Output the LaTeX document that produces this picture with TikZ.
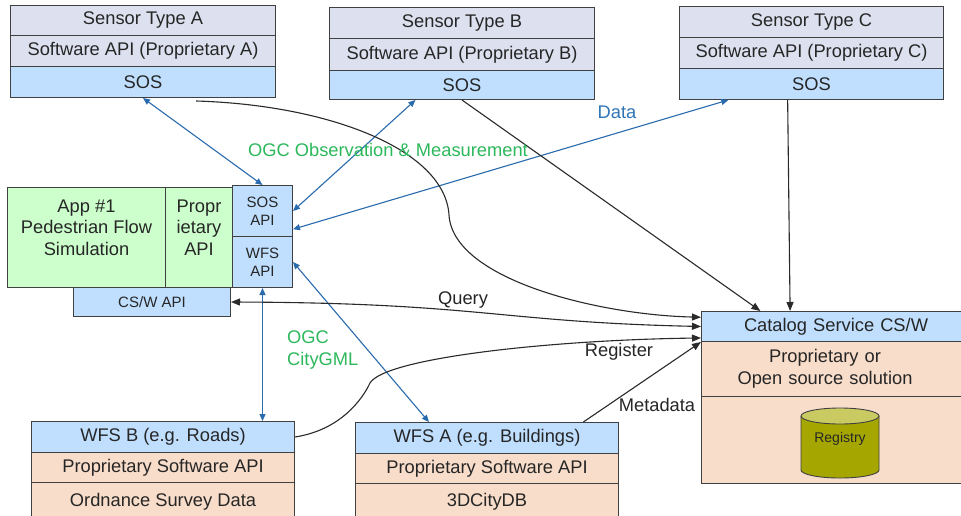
\documentclass[tikz,border=0pt]{standalone}
\usepackage{fontspec}
\setmainfont{Liberation Sans}
\usetikzlibrary{arrows.meta,calc}
\definecolor{lav}{HTML}{DDE1EF}
\definecolor{sosb}{HTML}{C0DFFF}
\definecolor{appg}{HTML}{CCFFCC}
\definecolor{peach}{HTML}{F8DDCA}
\definecolor{oliv}{HTML}{A5A700}
\definecolor{olivtop}{HTML}{C9CB62}
\definecolor{bord}{HTML}{404040}
\definecolor{lblue}{HTML}{2A6BAE}
\definecolor{dblue}{HTML}{2E75B6}
\definecolor{ogreen}{HTML}{2DB85C}
\definecolor{txt}{HTML}{262626}
\definecolor{lblack}{HTML}{2A2A2A}
\begin{document}
\begin{tikzpicture}[x=1pt,y=-1pt,
  cell/.style={draw=bord, line width=1pt, inner sep=0pt, anchor=north west, align=center, text=txt, font=\fontsize{18.3}{21.5}\selectfont},
  small/.style={font=\fontsize{15}{18}\selectfont},
  lbl/.style={inner sep=0pt, text=txt, font=\fontsize{18.3}{21.5}\selectfont, align=center},
  bl/.style={draw=lblue, line width=1.1pt, {Triangle[length=7pt,width=6pt]}-{Triangle[length=7pt,width=6pt]}},
  bk/.style={draw=lblack, line width=1.1pt, -{Triangle[length=9pt,width=7pt]}},
  bkk/.style={draw=lblack, line width=1.1pt, {Triangle[length=9pt,width=7pt]}-{Triangle[length=9pt,width=7pt]}}]
\useasboundingbox (0,0) rectangle (961,515);
\clip (0,0) rectangle (961,515);
\fill[white] (0,0) rectangle (961,515);

% Sensor A
\node[cell, fill=lav, minimum width=265pt, minimum height=30pt] (sA1) at (10,5) {Sensor Type A};
\node[cell, fill=lav, minimum width=265pt, minimum height=31pt] (sA2) at (10,35) {Software API (Proprietary A)};
\node[cell, fill=sosb, minimum width=265pt, minimum height=31pt] (sA3) at (10,66) {SOS};
% Sensor B
\node[cell, fill=lav, minimum width=265pt, minimum height=31pt] (sB1) at (329,7) {Sensor Type B};
\node[cell, fill=lav, minimum width=265pt, minimum height=32pt] (sB2) at (329,38) {Software API (Proprietary B)};
\node[cell, fill=sosb, minimum width=265pt, minimum height=29pt] (sB3) at (329,70) {SOS};
% Sensor C
\node[cell, fill=lav, minimum width=264pt, minimum height=31pt] (sC1) at (679,6) {Sensor Type C};
\node[cell, fill=lav, minimum width=264pt, minimum height=31pt] (sC2) at (679,37) {Software API (Proprietary C)};
\node[cell, fill=sosb, minimum width=264pt, minimum height=31pt] (sC3) at (679,68) {SOS};

% App
\node[cell, fill=appg, minimum width=158pt, minimum height=100pt] (app) at (7,187) {};
\node[lbl] (apptxt) at ($(app.center)+(0,-10)$) {App \#1\\Pedestrian Flow\\Simulation};
\node[cell, fill=appg, minimum width=67pt, minimum height=100pt] (papi) at (165,187) {};
\node[lbl] (papitxt) at ($(papi.center)+(0,-10)$) {Propr\\ietary\\API};
\node[cell, small, fill=sosb, minimum width=60pt, minimum height=51pt] (sosapi) at (232,185) {SOS\\API};
\node[cell, small, fill=sosb, minimum width=60pt, minimum height=51pt] (wfsapi) at (232,236) {WFS\\API};
\node[cell, small, fill=sosb, minimum width=157pt, minimum height=29pt] (cswapi) at (73,287) {CS/W API};

% WFS B
\node[cell, fill=sosb, minimum width=263pt, minimum height=31pt] (wB1) at (31,421) {WFS B (e.g. Roads)};
\node[cell, fill=peach, minimum width=263pt, minimum height=30pt] (wB2) at (31,452) {Proprietary Software API};
\node[cell, fill=peach, minimum width=263pt, minimum height=38pt] (wB3) at (31,482) {Ordnance Survey Data};
% WFS A
\node[cell, fill=sosb, minimum width=263pt, minimum height=31pt] (wA1) at (355,422) {WFS A (e.g. Buildings)};
\node[cell, fill=peach, minimum width=263pt, minimum height=30pt] (wA2) at (355,453) {Proprietary Software API};
\node[cell, fill=peach, minimum width=263pt, minimum height=37pt] (wA3) at (355,483) {3DCityDB};

% Catalog
\node[cell, fill=sosb, minimum width=269pt, minimum height=30pt, text width=260pt, align=left] (cat1) at (701,311) {\hspace*{38pt}Catalog Service CS/W};
\node[cell, fill=peach, minimum width=269pt, minimum height=55pt, text width=240pt] (cat2) at (701,341) {\hspace*{-22pt}Proprietary or\\\hspace*{-22pt}Open source solution};
\node[cell, fill=peach, minimum width=269pt, minimum height=87pt] (cat3) at (701,396) {};

% Registry cylinder
\fill[oliv] (801,416) -- (801,470) arc[start angle=180, end angle=360, x radius=39pt, y radius=8pt] -- (879,416) -- cycle;
\draw[bord, line width=0.9pt] (801,416) -- (801,470) arc[start angle=180, end angle=360, x radius=39pt, y radius=8pt] -- (879,416);
\draw[bord, line width=0.9pt, fill=olivtop] (840,416) ellipse[x radius=39pt, y radius=8pt];
\node[inner sep=0pt, text=txt, font=\fontsize{14}{16}\selectfont] (reg) at (840,439) {Registry};

% Blue connectors
\draw[bl] (sA3.south) -- (sosapi.north);
\draw[bl] ($(sB3.south west)!0.325!(sB3.south east)$) -- (sosapi.east);
\draw[bl] ($(sC3.south west)!0.186!(sC3.south east)$) -- ($(sosapi.east)!0.7!(sosapi.south east)$);
\draw[bl] (wfsapi.east) -- ($(wA1.north west)!0.28!(wA1.north east)$);
\draw[bl] (wfsapi.south) -- (wfsapi.south |- wB1.north);

% Black connectors
\draw[bk] ($(sA3.south west)!0.7!(sA3.south east)+(0,3)$) .. controls (330,105) and (445,150) .. (449,215)
  .. controls (453,280) and (600,315) .. ($(cat1.north west)!0.2!(cat1.south west)$);
\draw[bkk] (cswapi.east) .. controls (480,303) and (500,322) .. (cat1.west);
\draw[bk] (wB1.east) .. controls (340,430) and (362,400) .. (370,383)
  .. controls (385,358) and (550,340) .. ($(cat1.north west)!0.87!(cat1.south west)$);
\draw[bk] ($(wA1.north west)!0.865!(wA1.north east)$) -- (cat1.south west);
\draw[bk] (sB3.south) -- ($(cat1.north west)!0.22!(cat1.north east)$);
\draw[bk] ($(sC3.south west)!0.41!(sC3.south east)$) -- ($(cat1.north west)!0.33!(cat1.north east)$);

% Labels
\node[lbl, text=ogreen] (ogcom) at (388,150) {OGC Observation \& Measurement};
\node[lbl, text=dblue] (data) at (617,112) {Data};
\node[lbl] (query) at (463,300) {Query};
\node[lbl] (register) at (619,352) {Register};
\node[lbl] (metadata) at (657,405) {Metadata};
\node[lbl, text=ogreen, anchor=west, align=left] (ogccity) at (287,350) {OGC\\CityGML};
\end{tikzpicture}
\end{document}
